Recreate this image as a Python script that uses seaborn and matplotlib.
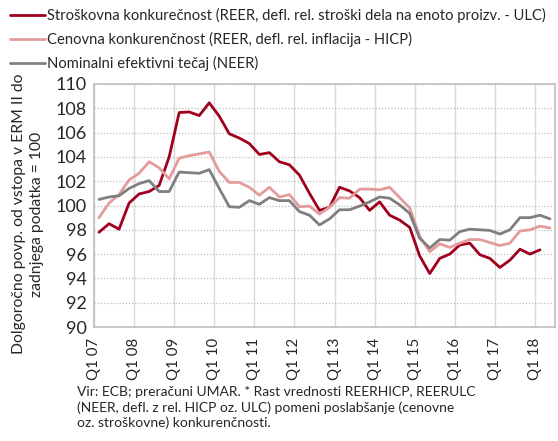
import numpy as np
import pandas as pd
import matplotlib
matplotlib.use("Agg")
import matplotlib.pyplot as plt
import seaborn as sns

years = list(range(2007, 2019))
quarters = [f"Q{q} {y % 100:02d}" for y in years for q in range(1, 5)][:46]
tick_labels = [f"Q1 {y % 100:02d}" for y in years]

ulc = [97.8, 98.5, 98.05, 100.2, 100.95, 101.15, 101.65, 104.0, 107.65, 107.7,
       107.4, 108.45, 107.35, 105.9, 105.55, 105.1, 104.2, 104.35, 103.6, 103.35,
       102.5, 101.0, 99.6, 99.85, 101.5, 101.2, 100.65, 99.6, 100.3, 99.2,
       98.8, 98.2, 95.85, 94.4, 95.65, 96.0, 96.75, 96.9, 95.95, 95.65,
       94.9, 95.5, 96.4, 96.0, 96.35, np.nan]
hicp = [99.0, 100.2, 100.9, 102.1, 102.65, 103.6, 103.1, 102.2, 103.9, 104.1,
        104.25, 104.4, 102.8, 101.9, 101.9, 101.5, 100.85, 101.5, 100.7, 100.9,
        99.9, 99.95, 99.3, 99.85, 100.65, 100.6, 101.35, 101.35, 101.3, 101.5,
        100.65, 99.8, 97.45, 96.2, 96.85, 96.55, 96.9, 97.2, 97.2, 96.95,
        96.7, 96.9, 97.9, 98.0, 98.3, 98.15]
neer = [100.5, 100.7, 100.8, 101.4, 101.8, 102.05, 101.15, 101.15, 102.75, 102.7,
        102.65, 102.95, 101.4, 99.9, 99.85, 100.4, 100.1, 100.65, 100.4, 100.4,
        99.5, 99.2, 98.4, 98.9, 99.65, 99.65, 99.95, 100.3, 100.7, 100.6,
        100.05, 99.35, 97.3, 96.5, 97.2, 97.15, 97.85, 98.05, 98.0, 97.95,
        97.65, 98.0, 99.0, 99.0, 99.2, 98.9]

names = ["Stroškovna konkurečnost (REER, defl. rel. stroški dela na enoto proizv. - ULC)",
         "Cenovna konkurenčnost (REER, defl. rel. inflacija - HICP)",
         "Nominalni efektivni tečaj (NEER)"]
colors = ["#A0001E", "#E39C9C", "#7F7F7F"]

rows = []
for name, vals in zip(names, [ulc, hicp, neer]):
    for i, v in enumerate(vals):
        rows.append({"idx": i, "q": quarters[i], "val": v, "series": name})
df = pd.DataFrame(rows)

sns.set_style("white")
plt.rcParams["font.family"] = ["Lato", "DejaVu Sans"]

fig = plt.figure(figsize=(5.58, 4.41), dpi=100)
ax = fig.add_axes([94/558, 1-327/441, (555-94)/558, (327-84)/441])

sns.lineplot(data=df, x="idx", y="val", hue="series", hue_order=names,
             palette=colors, linewidth=2.0, ax=ax, legend=False, sort=False)

ax.set_xlim(-0.5, 45.5)
ax.set_ylim(90, 110)
ax.set_yticks(np.arange(90, 111, 2))
ax.set_xticks(np.arange(-0.5, 45.5, 4))
ax.set_xticklabels(tick_labels, rotation=90, fontsize=10.8)
ax.tick_params(axis="y", labelsize=13, length=0, pad=5)
ax.tick_params(axis="x", length=0, pad=8)
ax.set_xlabel("")
ax.set_ylabel("")
ax.grid(axis="x", color="#D9D9D9", linewidth=1.0, linestyle="-")
ax.grid(axis="y", color="#BFBFBF", linewidth=0.9, linestyle=(0, (1, 1.5)))
ax.set_axisbelow(True)
for s in ax.spines.values():
    s.set_visible(True)
    s.set_color("#BFBFBF")
    s.set_linewidth(1.2)

handles = [plt.Line2D([], [], color=c, linewidth=2.0) for c in colors]
fig.legend(handles, names, loc="upper left", bbox_to_anchor=(10/558, 1-8/441),
           frameon=False, fontsize=10.6, handlelength=2.4, handletextpad=0.1,
           labelspacing=0.6, borderpad=0, borderaxespad=0)

fig.text(28/558, 1-214/441,
         "Dolgoročno povp. od vstopa v ERM II do\nzadnjega podatka = 100",
         rotation=90, ha="center", va="center", multialignment="center",
         fontsize=11.3, linespacing=1.3)

fig.text(77/558, 1-386/441,
         "Vir: ECB; preračuni UMAR. * Rast vrednosti REERHICP, REERULC\n"
         "(NEER, defl. z rel. HICP oz. ULC) pomeni poslabšanje (cenovne\n"
         "oz. stroškovne) konkurenčnosti.",
         ha="left", va="top", fontsize=10, linespacing=1.3)

fig.savefig("out.png", dpi=100)
